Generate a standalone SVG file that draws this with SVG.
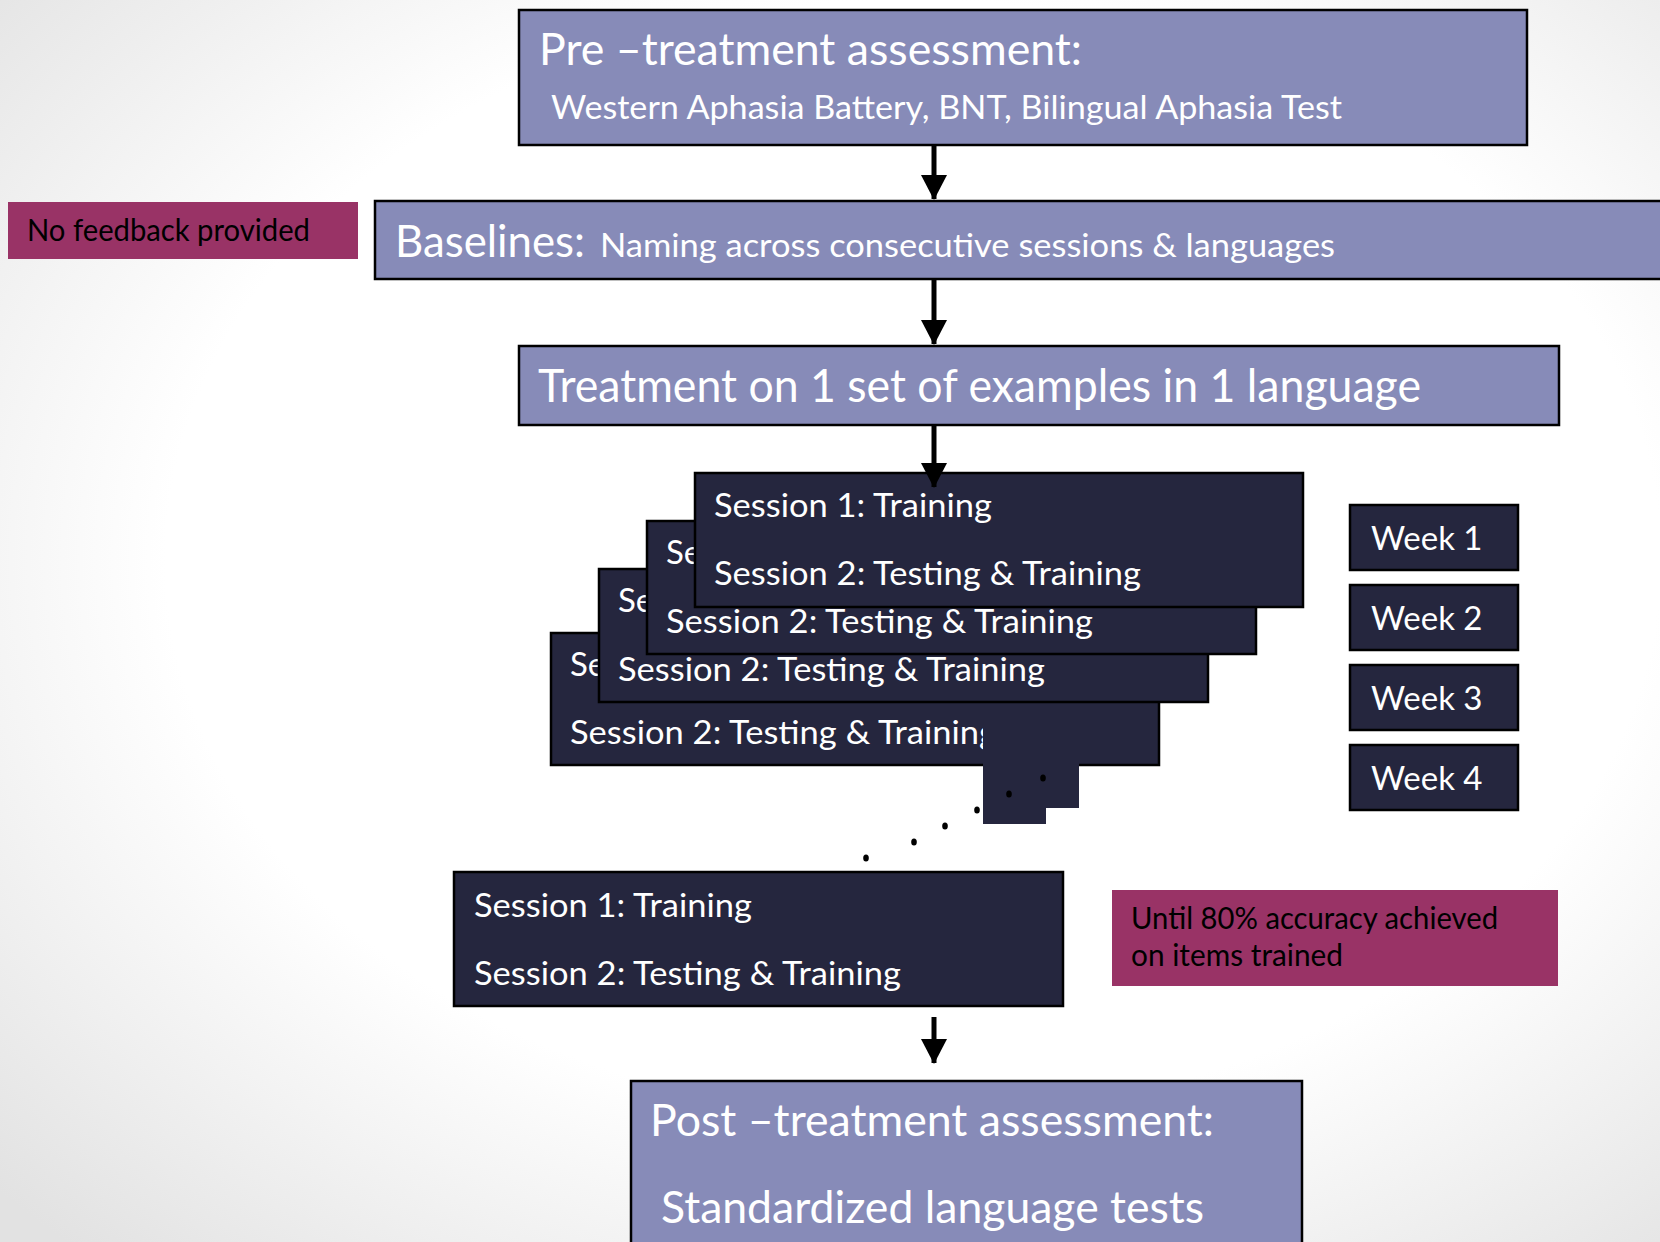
<svg xmlns="http://www.w3.org/2000/svg" width="1660" height="1242" viewBox="0 0 1660 1242">
<defs>
<radialGradient id="bg" cx="0.55" cy="0.45" r="0.75">
<stop offset="0" stop-color="#ffffff"/>
<stop offset="0.6" stop-color="#ffffff"/>
<stop offset="1" stop-color="#e2e2e2"/>
</radialGradient>
<marker id="ah" viewBox="0 0 25 26" refX="24" refY="13" markerWidth="25" markerHeight="26" markerUnits="userSpaceOnUse" orient="auto">
<path d="M0,0 L25,13 L0,26 Z" fill="#000"/>
</marker>
</defs>
<style>
.peri{fill:#878bb8;stroke:#000;stroke-width:2.5}
.navy{fill:#25263e;stroke:#000;stroke-width:2.5}
.mag{fill:#993366}
.t{font-family:Lato,"Open Sans",sans-serif;fill:#fff}
.k{font-family:Lato,"Open Sans",sans-serif;fill:#000}
.conn{stroke:#000;stroke-width:5;fill:none}
</style>
<rect width="1660" height="1242" fill="url(#bg)"/>

<g id="pre">
<rect class="peri" x="519" y="10" width="1008" height="135"/>
<text class="t" x="539" y="65" font-size="44" textLength="543" lengthAdjust="spacingAndGlyphs">Pre –treatment assessment:</text>
<text class="t" x="551" y="119" font-size="32" textLength="791" lengthAdjust="spacingAndGlyphs">Western Aphasia Battery, BNT, Bilingual Aphasia Test</text>
</g>

<g id="nofeedback">
<rect class="mag" x="8" y="202" width="350" height="57"/>
<text class="k" x="27" y="241" font-size="30" textLength="283" lengthAdjust="spacingAndGlyphs">No feedback provided</text>
</g>

<g id="baselines">
<rect class="peri" x="375" y="201" width="1300" height="78"/>
<text class="t" x="395" y="257" font-size="44" textLength="190" lengthAdjust="spacingAndGlyphs">Baselines:</text>
<text class="t" x="600" y="257" font-size="32" textLength="735" lengthAdjust="spacingAndGlyphs">Naming across consecutive sessions &amp; languages</text>
</g>

<g id="treatment">
<rect class="peri" x="519" y="346" width="1040" height="79"/>
<text class="t" x="538" y="402" font-size="46" textLength="883" lengthAdjust="spacingAndGlyphs">Treatment on 1 set of examples in 1 language</text>
</g>

<g id="week4sessions">
<rect class="navy" x="551" y="633" width="608" height="132"/>
<text class="t" x="570" y="676" font-size="33">Se</text>
<text class="t" x="570" y="744" font-size="33" textLength="427" lengthAdjust="spacingAndGlyphs">Session 2: Testing &amp; Training</text>
</g>
<g id="extra-sessions">
<rect fill="#25263e" x="983" y="727" width="96" height="81"/>
<rect fill="#25263e" x="983" y="727" width="63" height="97"/>
</g>
<g id="week3sessions">
<rect class="navy" x="599" y="569" width="609" height="133"/>
<text class="t" x="618" y="612" font-size="33">Se</text>
<text class="t" x="618" y="681" font-size="33" textLength="427" lengthAdjust="spacingAndGlyphs">Session 2: Testing &amp; Training</text>
</g>
<g id="week2sessions">
<rect class="navy" x="647" y="521" width="609" height="133"/>
<text class="t" x="666" y="564" font-size="33">Se</text>
<text class="t" x="666" y="633" font-size="33" textLength="427" lengthAdjust="spacingAndGlyphs">Session 2: Testing &amp; Training</text>
</g>
<g id="week1sessions">
<rect class="navy" x="695" y="473" width="608" height="134"/>
<text class="t" x="714" y="517" font-size="33" textLength="278" lengthAdjust="spacingAndGlyphs">Session 1: Training</text>
<text class="t" x="714" y="585" font-size="33" textLength="427" lengthAdjust="spacingAndGlyphs">Session 2: Testing &amp; Training</text>
</g>

<g id="dots" fill="#000">
<ellipse cx="1043" cy="778" rx="2.8" ry="3.5"/>
<ellipse cx="1009" cy="794" rx="2.8" ry="3.5"/>
<ellipse cx="977" cy="810" rx="2.8" ry="3.5"/>
<ellipse cx="945" cy="826" rx="2.8" ry="3.5"/>
<ellipse cx="914" cy="842" rx="2.8" ry="3.5"/>
<ellipse cx="866" cy="858" rx="2.8" ry="3.5"/>
</g>

<g id="week1"><rect class="navy" x="1350" y="505" width="168" height="65"/><text class="t" x="1371" y="550" font-size="33">Week 1</text></g>
<g id="week2"><rect class="navy" x="1350" y="585" width="168" height="65"/><text class="t" x="1371" y="630" font-size="33">Week 2</text></g>
<g id="week3"><rect class="navy" x="1350" y="665" width="168" height="65"/><text class="t" x="1371" y="710" font-size="33">Week 3</text></g>
<g id="week4"><rect class="navy" x="1350" y="745" width="168" height="65"/><text class="t" x="1371" y="790" font-size="33">Week 4</text></g>

<g id="lastsessions">
<rect class="navy" x="454" y="872" width="609" height="134"/>
<text class="t" x="474" y="917" font-size="33" textLength="278" lengthAdjust="spacingAndGlyphs">Session 1: Training</text>
<text class="t" x="474" y="985" font-size="33" textLength="427" lengthAdjust="spacingAndGlyphs">Session 2: Testing &amp; Training</text>
</g>

<g id="until">
<rect class="mag" x="1112" y="890" width="446" height="96"/>
<text class="k" x="1131" y="929" font-size="30" textLength="367" lengthAdjust="spacingAndGlyphs">Until 80% accuracy achieved</text>
<text class="k" x="1131" y="966" font-size="30" textLength="212" lengthAdjust="spacingAndGlyphs">on items trained</text>
</g>

<g id="post">
<rect class="peri" x="631" y="1081" width="671" height="175"/>
<text class="t" x="650" y="1136" font-size="44" textLength="564" lengthAdjust="spacingAndGlyphs">Post –treatment assessment:</text>
<text class="t" x="661" y="1223" font-size="44" textLength="543" lengthAdjust="spacingAndGlyphs">Standardized language tests</text>
</g>

<g id="connectors">
<line class="conn" x1="934" y1="145" x2="934" y2="199" marker-end="url(#ah)"/>
<line class="conn" x1="934" y1="279" x2="934" y2="344" marker-end="url(#ah)"/>
<line class="conn" x1="934" y1="425" x2="934" y2="487" marker-end="url(#ah)"/>
<line class="conn" x1="934" y1="1017" x2="934" y2="1063" marker-end="url(#ah)"/>
</g>
</svg>
